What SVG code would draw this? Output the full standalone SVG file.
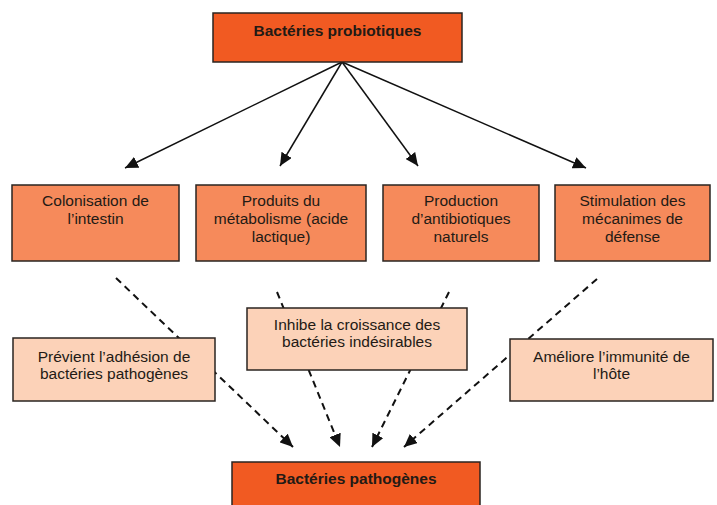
<svg xmlns="http://www.w3.org/2000/svg" width="717" height="505" viewBox="0 0 717 505">
<style>
.t{font-family:"Liberation Sans",Arial,sans-serif;font-size:15.5px;fill:#231a15;text-anchor:middle}
.b{font-weight:bold}
.box{stroke:#2a2420;stroke-width:1.5}
.main{fill:#F15A22}
.mid{fill:#F68A5B}
.light{fill:#FCD2B8}
.sol{stroke:#111;stroke-width:1.5;fill:none}
.dash{stroke:#111;stroke-width:2;fill:none;stroke-dasharray:7,5}
</style>
<defs>
<marker id="ah" markerUnits="userSpaceOnUse" markerWidth="14" markerHeight="12" refX="13" refY="6" orient="auto">
<path d="M0,0 L13,6 L0,12 Z" fill="#111"/>
</marker>
</defs>
<g id="connectors">
<line class="sol" x1="342" y1="62" x2="125" y2="168" marker-end="url(#ah)"/>
<line class="sol" x1="342" y1="62" x2="280" y2="166" marker-end="url(#ah)"/>
<line class="sol" x1="342" y1="62" x2="418" y2="166" marker-end="url(#ah)"/>
<line class="sol" x1="342" y1="62" x2="586" y2="168" marker-end="url(#ah)"/>
<line class="dash" x1="116" y1="278" x2="293" y2="447" marker-end="url(#ah)"/>
<line class="dash" x1="277" y1="292" x2="340" y2="447" marker-end="url(#ah)"/>
<line class="dash" x1="449" y1="292" x2="372" y2="447" marker-end="url(#ah)"/>
<line class="dash" x1="597" y1="279" x2="404" y2="447" marker-end="url(#ah)"/>
</g>
<g id="n-probiotiques">
<rect class="box main" x="213" y="13" width="249" height="49"/>
<text class="t b" x="337.5" y="36">Bactéries probiotiques</text>
</g>
<g id="n-colonisation">
<rect class="box mid" x="12" y="185" width="167" height="76"/>
<text class="t" x="95.5" y="206">Colonisation de</text>
<text class="t" x="95.5" y="224">l’intestin</text>
</g>
<g id="n-produits">
<rect class="box mid" x="196" y="185" width="170" height="76"/>
<text class="t" x="281" y="206">Produits du</text>
<text class="t" x="281" y="224">métabolisme (acide</text>
<text class="t" x="281" y="242">lactique)</text>
</g>
<g id="n-production">
<rect class="box mid" x="383" y="185" width="156" height="76"/>
<text class="t" x="461" y="206">Production</text>
<text class="t" x="461" y="224">d’antibiotiques</text>
<text class="t" x="461" y="242">naturels</text>
</g>
<g id="n-stimulation">
<rect class="box mid" x="555" y="185" width="155" height="76"/>
<text class="t" x="632.5" y="206">Stimulation des</text>
<text class="t" x="632.5" y="224">mécanimes de</text>
<text class="t" x="632.5" y="242">défense</text>
</g>
<g id="n-previent">
<rect class="box light" x="13" y="338" width="202" height="63"/>
<text class="t" x="114" y="362">Prévient l’adhésion de</text>
<text class="t" x="114" y="379">bactéries pathogènes</text>
</g>
<g id="n-inhibe">
<rect class="box light" x="247" y="308" width="220" height="62"/>
<text class="t" x="357" y="330">Inhibe la croissance des</text>
<text class="t" x="357" y="347">bactéries indésirables</text>
</g>
<g id="n-ameliore">
<rect class="box light" x="510" y="339" width="203" height="62"/>
<text class="t" x="611.5" y="362">Améliore l’immunité de</text>
<text class="t" x="611.5" y="379">l’hôte</text>
</g>
<g id="n-pathogenes">
<rect class="box main" x="232" y="462" width="248" height="50"/>
<text class="t b" x="356" y="484">Bactéries pathogènes</text>
</g>
</svg>
